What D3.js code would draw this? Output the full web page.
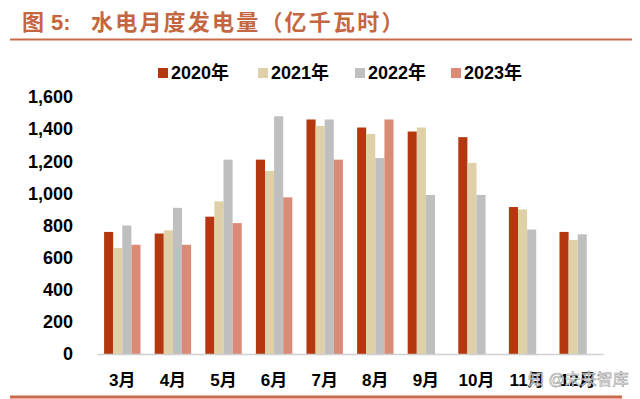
<!DOCTYPE html>
<html>
<head>
<meta charset="utf-8">
<script src="https://cdn.jsdelivr.net/npm/d3@7"></script>
<style>
  body { margin: 0; background: #fff; }
  svg text { font-family: "Liberation Sans", Arial, "Noto Sans CJK SC", sans-serif; }
</style>
</head>
<body>
<div id="chart"></div>
<script>
const months = ["3月", "4月", "5月", "6月", "7月", "8月", "9月", "10月", "11月", "12月"];
const years = ["2020年", "2021年", "2022年", "2023年"];
const v2020 = [760, 750, 855, 1210, 1460, 1410, 1385, 1350, 915, 760];
const v2021 = [660, 770, 950, 1140, 1420, 1370, 1410, 1190, 900, 710];
const v2022 = [800, 910, 1210, 1480, 1460, 1220, 990, 990, 775, 745];
const v2023 = [680, 680, 815, 975, 1210, 1460, null, null, null, null];
const yTicks = [0, 200, 400, 600, 800, 1000, 1200, 1400, 1600];
const colors = ["#b5370f", "#dfd0a7", "#bfbfbf", "#da8b78"];

const series = [v2020, v2021, v2022, v2023];
const width = 640, height = 399;
const margin = {top: 97, right: 37, bottom: 45, left: 97};

const svg = d3.select("#chart").append("svg")
  .attr("width", width)
  .attr("height", height);

// title
const title = svg.append("text")
  .attr("y", 30)
  .attr("fill", "#c4663f")
  .attr("font-size", 22).attr("font-weight", "bold");
title.append("tspan").attr("x", 22).text("图");
title.append("tspan").attr("x", 51).text("5:");
title.append("tspan").attr("x", 91).attr("letter-spacing", 2.2).text("水电月度发电量（亿千瓦时）");

svg.append("line")
  .attr("x1", 10).attr("x2", 632).attr("y1", 39.5).attr("y2", 39.5)
  .attr("stroke", "#c96a4b").attr("stroke-width", 2);
svg.append("line")
  .attr("x1", 10).attr("x2", 622).attr("y1", 397).attr("y2", 397)
  .attr("stroke", "#c96a4b").attr("stroke-width", 3);

const x0 = d3.scaleBand()
  .domain(months)
  .range([margin.left, width - margin.right])
  .paddingInner(0.28).paddingOuter(0.14);
const x1 = d3.scaleBand()
  .domain(d3.range(years.length))
  .range([0, x0.bandwidth()]);
const y = d3.scaleLinear()
  .domain([0, 1600])
  .range([height - margin.bottom, margin.top]);

// y axis
const yAxis = d3.axisLeft(y).tickValues(yTicks).tickSize(0).tickPadding(24)
  .tickFormat(d3.format(","));
svg.append("g")
  .attr("class", "y axis")
  .attr("transform", "translate(" + margin.left + ",0)")
  .call(yAxis)
  .call(g => g.select(".domain").remove())
  .selectAll("text")
  .attr("font-size", 18).attr("font-weight", "bold").attr("fill", "#000");

// bars
const groups = svg.append("g").selectAll("g")
  .data(months)
  .join("g")
  .attr("transform", d => "translate(" + x0(d) + ",0)");

groups.selectAll("rect")
  .data((m, i) => series.map((s, k) => ({k: k, v: s[i]})).filter(d => d.v != null))
  .join("rect")
  .attr("x", d => x1(d.k))
  .attr("width", x1.bandwidth())
  .attr("y", d => y(d.v))
  .attr("height", d => y(0) - y(d.v))
  .attr("fill", d => colors[d.k]);

// x axis
const xAxis = d3.axisBottom(x0).tickSize(0).tickPadding(20);
svg.append("g")
  .attr("class", "x axis")
  .attr("transform", "translate(0," + y(0) + ")")
  .call(xAxis)
  .call(g => g.select(".domain").attr("stroke", "#d0d0d0").attr("stroke-width", 1.5))
  .selectAll("text")
  .attr("font-size", 17).attr("font-weight", "bold").attr("fill", "#000");

// legend
const legendX = [158, 258, 355, 451];
const legend = svg.append("g").selectAll("g")
  .data(years)
  .join("g")
  .attr("transform", (d, i) => "translate(" + legendX[i] + ",66)");
legend.append("rect")
  .attr("width", 10).attr("height", 10).attr("y", 2)
  .attr("fill", (d, i) => colors[i]);
legend.append("text")
  .attr("x", 13).attr("y", 13)
  .attr("font-size", 18).attr("font-weight", "bold").attr("fill", "#000")
  .text(d => d);

// watermark
svg.append("text")
  .attr("x", 528).attr("y", 385)
  .attr("font-size", 16)
  .attr("fill", "#ffffff").attr("fill-opacity", 0.8)
  .attr("stroke", "#9a9a9a").attr("stroke-width", 0.6)
  .text("知 @未来智库");
</script>
</body>
</html>
